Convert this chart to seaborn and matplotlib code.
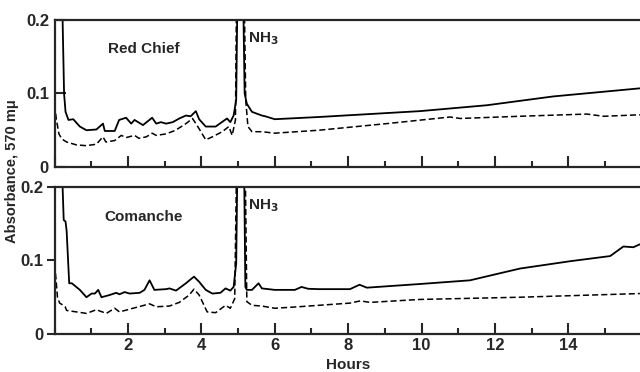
import matplotlib
matplotlib.use('Agg')
import matplotlib.pyplot as plt
import seaborn as sns
import pandas as pd
from matplotlib.ticker import MultipleLocator

# Red Chief (top panel) - solid trace
rc_solid_h = [0.20, 0.22, 0.26, 0.30, 0.38, 0.51, 0.69, 0.87, 1.14, 1.32, 1.37, 1.64, 1.76, 1.95, 2.09,
              2.18, 2.41, 2.66, 2.77, 2.90, 3.04, 3.22, 3.40, 3.58, 3.71, 3.85, 3.94, 4.12, 4.39,
              4.70, 4.79, 4.88, 4.95, 5.00, 5.12, 5.18, 5.24, 5.38, 5.65, 5.74, 6.00, 7.2, 9.96,
              11.78, 13.59, 15.95]
rc_solid_v = [0.30, 0.20, 0.10, 0.075, 0.064, 0.065, 0.055, 0.050, 0.051, 0.059, 0.049, 0.049, 0.064,
              0.067, 0.059, 0.064, 0.057, 0.067, 0.059, 0.061, 0.059, 0.061, 0.066, 0.070, 0.069,
              0.076, 0.065, 0.055, 0.055, 0.066, 0.061, 0.070, 0.091, 0.30, 0.30, 0.100, 0.086,
              0.075, 0.070, 0.069, 0.065, 0.068, 0.076, 0.084, 0.096, 0.107]

# Red Chief (top panel) - dashed trace
rc_dash_h = [0.0, 0.05, 0.12, 0.20, 0.33, 0.60, 0.87, 1.14, 1.32, 1.40, 1.64, 1.82, 1.95, 2.18, 2.30,
             2.50, 2.66, 2.77, 3.04, 3.30, 3.58, 3.76, 3.94, 4.12, 4.30, 4.57, 4.75, 4.84, 4.93,
             4.97, 5.15, 5.21, 5.27, 5.38, 5.65, 6.00, 7.2, 9.05, 10.78, 11.05, 12.68, 14.5,
             14.96, 15.95]
rc_dash_v = [0.085, 0.065, 0.045, 0.038, 0.034, 0.030, 0.029, 0.031, 0.041, 0.034, 0.036, 0.043,
             0.040, 0.043, 0.039, 0.041, 0.046, 0.043, 0.045, 0.050, 0.059, 0.066, 0.052, 0.037,
             0.041, 0.048, 0.055, 0.043, 0.064, 0.30, 0.30, 0.091, 0.055, 0.048, 0.048, 0.046,
             0.050, 0.059, 0.068, 0.066, 0.069, 0.072, 0.069, 0.071]

# Comanche (bottom panel) - solid trace
co_solid_h = [0.20, 0.22, 0.25, 0.30, 0.33, 0.40, 0.47, 0.69, 0.87, 1.01, 1.10, 1.19, 1.28, 1.50,
              1.68, 1.77, 1.91, 2.05, 2.32, 2.45, 2.59, 2.72, 3.04, 3.13, 3.31, 3.58, 3.80, 3.94,
              4.12, 4.30, 4.52, 4.66, 4.79, 4.88, 4.95, 5.00, 5.15, 5.20, 5.24, 5.38, 5.56, 5.65,
              6.00, 6.55, 6.73, 6.91, 7.2, 8.05, 8.31, 8.51, 9.96, 11.32, 12.68, 14.05, 15.14,
              15.5, 15.77, 15.95]
co_solid_v = [0.30, 0.20, 0.155, 0.153, 0.140, 0.069, 0.069, 0.060, 0.050, 0.055, 0.055, 0.060,
              0.050, 0.053, 0.056, 0.054, 0.057, 0.055, 0.056, 0.060, 0.073, 0.060, 0.061, 0.062,
              0.059, 0.069, 0.078, 0.071, 0.060, 0.055, 0.056, 0.062, 0.059, 0.064, 0.096, 0.30,
              0.30, 0.064, 0.060, 0.060, 0.069, 0.062, 0.060, 0.060, 0.064, 0.0615, 0.061, 0.061,
              0.067, 0.063, 0.068, 0.073, 0.089, 0.099, 0.106, 0.119, 0.118, 0.122]

# Comanche (bottom panel) - dashed trace
co_dash_h = [0.0, 0.04, 0.08, 0.14, 0.24, 0.29, 0.33, 0.60, 0.87, 1.14, 1.41, 1.64, 1.77, 2.14,
             2.59, 2.77, 3.13, 3.40, 3.67, 3.80, 3.94, 4.16, 4.39, 4.66, 4.79, 4.91, 4.98, 5.18,
             5.24, 5.38, 5.65, 6.00, 6.64, 7.2, 8.05, 8.33, 8.60, 9.96, 12.68, 15.95]
co_dash_v = [0.095, 0.075, 0.050, 0.042, 0.039, 0.037, 0.032, 0.030, 0.028, 0.033, 0.028, 0.035,
             0.030, 0.035, 0.041, 0.037, 0.038, 0.043, 0.053, 0.061, 0.053, 0.030, 0.029, 0.039,
             0.035, 0.048, 0.30, 0.30, 0.044, 0.039, 0.038, 0.035, 0.037, 0.039, 0.042, 0.045,
             0.043, 0.047, 0.050, 0.055]

panels = [
    ('Red Chief', 0.1605, rc_solid_h, rc_solid_v, rc_dash_h, rc_dash_v),
    ('Comanche', 0.159, co_solid_h, co_solid_v, co_dash_h, co_dash_v),
]

sns.set_style('ticks')
plt.rcParams['font.family'] = ['Liberation Sans', 'DejaVu Sans']
plt.rcParams['font.weight'] = 'bold'

fig = plt.figure(figsize=(6.4, 3.72), dpi=100)
ax_top = fig.add_axes([0.0852, 0.5511, 0.9175, 0.3952])
ax_bot = fig.add_axes([0.0852, 0.1022, 0.9175, 0.3952])

for ax, (name, name_y, sh, sv, dh, dv) in zip([ax_top, ax_bot], panels):
    solid = pd.DataFrame({'Hours': sh, 'Absorbance': sv})
    dashed = pd.DataFrame({'Hours': dh, 'Absorbance': dv})
    sns.lineplot(data=solid, x='Hours', y='Absorbance', ax=ax, color='black',
                 linewidth=1.3, sort=False, estimator=None)
    sns.lineplot(data=dashed, x='Hours', y='Absorbance', ax=ax, color='black',
                 linewidth=1.1, linestyle=(0, (4, 2)), sort=False, estimator=None)
    ax.set_xlim(0, 16)
    ax.set_ylim(0, 0.2)
    ax.set_xlabel('')
    ax.set_ylabel('')
    ax.set_yticks([0, 0.1, 0.2])
    ax.set_yticklabels(['0', '0.1', '0.2'], fontsize=12, fontweight='bold')
    ax.xaxis.set_major_locator(MultipleLocator(2))
    ax.xaxis.set_minor_locator(MultipleLocator(1))
    ax.tick_params(axis='x', which='major', direction='in', length=8, width=1.5)
    ax.tick_params(axis='x', which='minor', direction='in', length=4, width=1.5)
    ax.spines['right'].set_visible(False)
    for s in ['left', 'top', 'bottom']:
        ax.spines[s].set_linewidth(1.6)
    ax.text(2.42, name_y, name, ha='center', va='center', fontsize=11, fontweight='bold')
    ax.text(5.28, 0.174, 'NH$_3$', ha='left', va='center', fontsize=11, fontweight='bold')

ax_top.tick_params(axis='y', direction='in', length=8, width=1.5, pad=4)
ax_bot.tick_params(axis='y', direction='out', length=6, width=1.5, pad=2)
ax_top.set_xticklabels([])
ax_bot.set_xticks([2, 4, 6, 8, 10, 12, 14])
ax_bot.set_xticklabels(['2', '4', '6', '8', '10', '12', '14'], fontsize=12, fontweight='bold')
ax_bot.tick_params(axis='x', which='major', pad=3)

fig.text(0.019, 0.54, 'Absorbance, 570 m\u03bc', rotation=90, ha='center', va='center',
         fontsize=10.5, fontweight='bold')
fig.text(0.544, 0.018, 'Hours', ha='center', va='center', fontsize=11, fontweight='bold')

fig.savefig('out.png', dpi=100)
